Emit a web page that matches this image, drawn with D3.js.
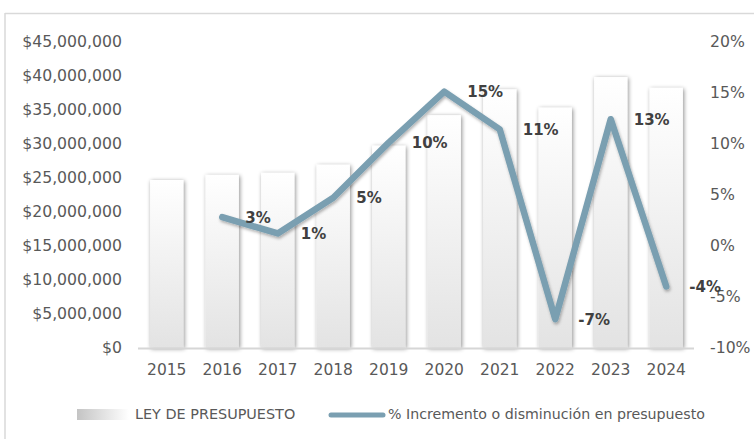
<!DOCTYPE html>
<html><head><meta charset="utf-8">
<script src="https://cdn.jsdelivr.net/npm/d3@7"></script>
<style>
body{margin:0;background:#fff;}
svg{display:block;font-family:"DejaVu Sans",sans-serif;}
</style></head>
<body><svg id="c" width="754" height="439"></svg>
<script>
const years = ["2015","2016","2017","2018","2019","2020","2021","2022","2023","2024"];
const budget = [24660000,25400000,25700000,26900000,29700000,34200000,38000000,35300000,39800000,38200000];
const pctYears = ["2016","2017","2018","2019","2020","2021","2022","2023","2024"];
const pctValues = [2.8,1.2,4.7,10.1,15.1,11.4,-7.2,12.4,-4.0];
const pctLabels = ["3%","1%","5%","10%","15%","11%","-7%","13%","-4%"];
const leftTicks = [0,5e6,10e6,15e6,20e6,25e6,30e6,35e6,40e6,45e6];
const rightTicks = [-10,-5,0,5,10,15,20];
const legendNames = ["LEY DE PRESUPUESTO","% Incremento o disminución en presupuesto"];

const svg = d3.select("#c");
const defs = svg.append("defs");
const g1 = defs.append("linearGradient").attr("id","barGrad").attr("x1",0).attr("y1",0).attr("x2",0).attr("y2",1);
g1.append("stop").attr("offset","0%").attr("stop-color","#ffffff");
g1.append("stop").attr("offset","100%").attr("stop-color","#e3e3e3");
const g2 = defs.append("linearGradient").attr("id","legGrad").attr("x1",0).attr("y1",0).attr("x2",1).attr("y2",0);
g2.append("stop").attr("offset","0%").attr("stop-color","#c4c4c4");
g2.append("stop").attr("offset","100%").attr("stop-color","#ffffff");
const f1 = defs.append("filter").attr("id","barShadow").attr("x","-40%").attr("y","-10%").attr("width","180%").attr("height","130%");
f1.append("feDropShadow").attr("dx",1).attr("dy",1).attr("stdDeviation",2.2).attr("flood-color","#000").attr("flood-opacity",0.45);
const f2 = defs.append("filter").attr("id","lineShadow").attr("x","-10%").attr("y","-10%").attr("width","120%").attr("height","130%");
f2.append("feDropShadow").attr("dx",1).attr("dy",2).attr("stdDeviation",1.5).attr("flood-color","#000").attr("flood-opacity",0.3);

// frame
svg.append("line").attr("x1",5).attr("x2",754).attr("y1",13.5).attr("y2",13.5).attr("stroke","#d9d9d9").attr("stroke-width",1.5);
svg.append("line").attr("x1",5).attr("x2",5).attr("y1",13).attr("y2",439).attr("stroke","#d9d9d9").attr("stroke-width",1.5);

const x = d3.scaleBand().domain(years).range([139,694]).paddingInner(0.4).paddingOuter(0.2);
const yL = d3.scaleLinear().domain([0,45e6]).range([347.7,41.7]);
const yR = d3.scaleLinear().domain([-10,20]).range([347.7,41.7]);

// bars
svg.append("g").selectAll("rect").data(years).join("rect")
  .attr("x",d=>x(d)).attr("width",x.bandwidth())
  .attr("y",(d,i)=>yL(budget[i])).attr("height",(d,i)=>yL(0)-yL(budget[i]))
  .attr("fill","url(#barGrad)").attr("filter","url(#barShadow)");

// x axis line
svg.append("line").attr("x1",138).attr("x2",694).attr("y1",yL(0)+0.8).attr("y2",yL(0)+0.8)
  .attr("stroke","#d6d6d6").attr("stroke-width",2);

// left axis
const axL = svg.append("g").attr("transform","translate(122,0)")
  .call(d3.axisLeft(yL).tickValues(leftTicks).tickSize(0).tickPadding(0)
  .tickFormat(v=>"$"+d3.format(",")(v)));
axL.select(".domain").remove();
axL.selectAll("text").attr("font-size",15.7).attr("fill","#595959").attr("font-family","DejaVu Sans");

// right axis
const axR = svg.append("g").attr("transform","translate(710,0)")
  .call(d3.axisRight(yR).tickValues(rightTicks).tickSize(0).tickPadding(0).tickFormat(v=>v+"%"));
axR.select(".domain").remove();
axR.selectAll("text").attr("font-size",15.7).attr("fill","#595959").attr("font-family","DejaVu Sans");

// bottom axis
const axB = svg.append("g").attr("transform","translate(0,"+yL(0)+")")
  .call(d3.axisBottom(x).tickSize(0).tickPadding(16));
axB.select(".domain").remove();
axB.selectAll("text").attr("font-size",15.5).attr("fill","#595959").attr("font-family","DejaVu Sans");

// line
const cx = d=>x(d)+x.bandwidth()/2;
const line = d3.line().x((d,i)=>cx(pctYears[i])).y(d=>yR(d));
svg.append("path").datum(pctValues).attr("d",line)
  .attr("fill","none").attr("stroke","#7a9fb1").attr("stroke-width",6.5)
  .attr("stroke-linejoin","round").attr("stroke-linecap","round").attr("filter","url(#lineShadow)");

// data labels
svg.append("g").selectAll("text").data(pctValues).join("text")
  .attr("x",(d,i)=>cx(pctYears[i])+23).attr("y",d=>yR(d)).attr("dy","0.36em")
  .attr("font-size",15).attr("font-weight","bold").attr("fill","#404040")
  .text((d,i)=>pctLabels[i]);

// legend
svg.append("rect").attr("x",77).attr("y",409).attr("width",52).attr("height",11).attr("fill","url(#legGrad)");
svg.append("text").attr("x",135).attr("y",419).attr("font-size",14.4).attr("fill","#595959").text(legendNames[0]);
svg.append("line").attr("x1",331).attr("x2",383).attr("y1",415).attr("y2",415)
  .attr("stroke","#7a9fb1").attr("stroke-width",5).attr("stroke-linecap","round");
svg.append("text").attr("x",388).attr("y",419).attr("font-size",14.2).attr("fill","#595959").text(legendNames[1]);
</script></body></html>
